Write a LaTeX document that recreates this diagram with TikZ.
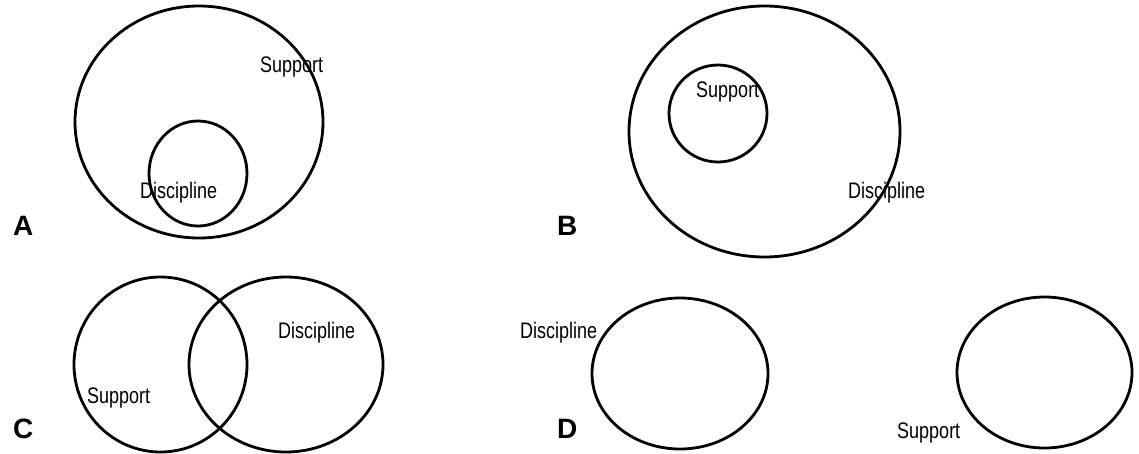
\documentclass[tikz,border=0pt]{standalone}
\usepackage{fontspec}
\setmainfont{Liberation Sans}
\newfontfamily\narrowfont[FakeStretch=0.8]{Liberation Sans}
\begin{document}
\begin{tikzpicture}[x=1pt,y=-1pt,
  ring/.style={draw=black, line width=2.8pt},
  lbl/.style={font=\narrowfont\fontsize{22.5}{22.5}\selectfont, anchor=base west, inner sep=0pt},
  letter/.style={font=\bfseries\fontsize{28}{28}\selectfont, anchor=base west, inner sep=0pt}]
\useasboundingbox (0,0) rectangle (1139,453);
% Panel A
\draw[ring] (199,122) ellipse [x radius=124pt, y radius=116pt];
\draw[ring] (198,173.5) ellipse [x radius=49pt, y radius=52.5pt];
\node[lbl] (aS) at (260,72) {Support};
\node[lbl] (aD) at (140,198) {Discipline};
\node[letter] (aL) at (13,235) {A};
% Panel B
\draw[ring] (764.5,131.5) ellipse [x radius=135.5pt, y radius=125.5pt];
\draw[ring] (718,113.5) ellipse [x radius=49pt, y radius=48.5pt];
\node[lbl] (bS) at (696,97) {Support};
\node[lbl] (bD) at (848,198) {Discipline};
\node[letter] (bL) at (557,235) {B};
% Panel C
\draw[ring] (160.5,364.5) ellipse [x radius=86.5pt, y radius=87.5pt];
\draw[ring] (286,364.5) ellipse [x radius=97pt, y radius=87.5pt];
\node[lbl] (cD) at (278,338) {Discipline};
\node[lbl] (cS) at (87,403) {Support};
\node[letter] (cL) at (13,438) {C};
% Panel D
\draw[ring] (680,373.5) ellipse [x radius=88pt, y radius=75.5pt];
\draw[ring] (1044.5,372.5) ellipse [x radius=87.5pt, y radius=75.5pt];
\node[lbl] (dD) at (520,338) {Discipline};
\node[lbl] (dS) at (897,438) {Support};
\node[letter] (dL) at (557,438) {D};
\end{tikzpicture}
\end{document}
